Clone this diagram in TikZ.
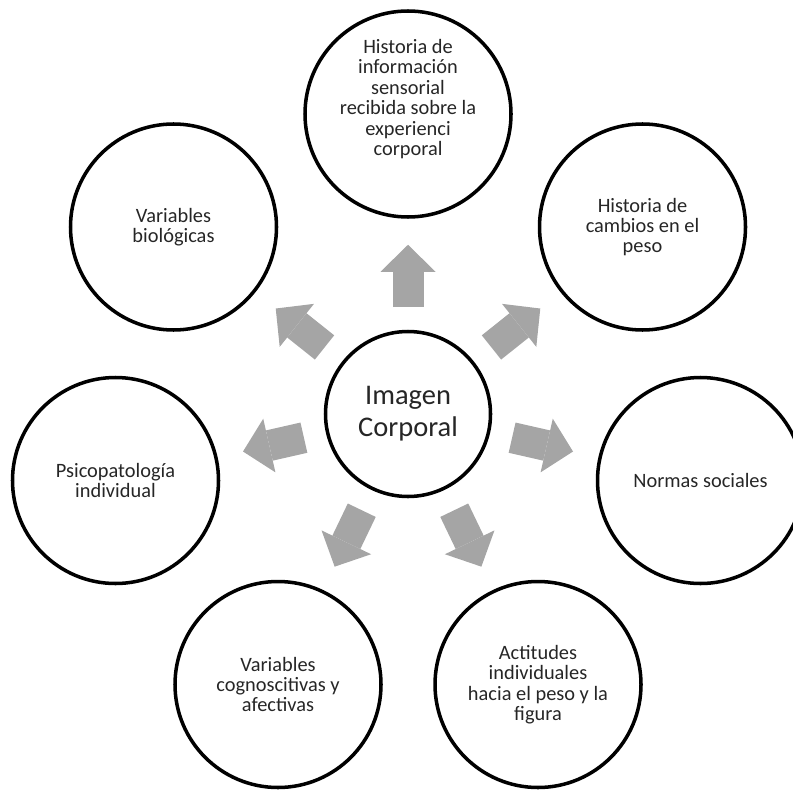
\documentclass[tikz,border=0pt]{standalone}
\usepackage{fontspec}
\setmainfont{Carlito}
\usepackage{tikz}
\usetikzlibrary{arrows.meta}
\definecolor{grisflecha}{HTML}{A5A5A5}

\begin{document}
\begin{tikzpicture}[
    circulo/.style={circle, draw, line width=2pt, minimum size=4.12cm, align=center, text=black!85, font=\fontsize{11.6}{11.6}\selectfont},
    texto/.style={align=center, text=black!85, font=\fontsize{11.6}{11.6}\selectfont},
    centro/.style={circle, draw, line width=2pt, minimum size=3.3cm, align=center, text=black!85, font=\fontsize{16.2}{18.2}\selectfont},
    flecha/.style={draw=grisflecha, line width=0.62cm, -{Triangle[width=1.1cm,length=0.54cm,line width=0pt]}, shorten <=0.45cm, shorten >=0.52cm}
]
        \useasboundingbox (0,0) rectangle (15.86,15.78);

        \node[centro] (imagen) at (8.16,7.50) {Imagen\\Corporal};

        \node[circulo] (sensorial) at (8.16,13.50) {};
        \node[texto] (sensorialtxt) at ([yshift=0.3cm]sensorial.center) {Historia de\\información\\sensorial\\recibida sobre la\\experienci\\corporal};
        \node[circulo] (peso) at (12.85,11.24) {Historia de\\cambios en el\\peso};
        \node[circulo] (normas) at (14.01,6.17) {Normas sociales};
        \node[circulo] (actitudes) at (10.76,2.09) {Actitudes\\individuales\\hacia el peso y la\\figura};
        \node[circulo] (cognitivas) at (5.56,2.09) {Variables\\cognoscitivas y\\afectivas};
        \node[circulo] (psico) at (2.31,6.17) {Psicopatología\\individual};
        \node[circulo] (biologicas) at (3.47,11.24) {Variables\\biológicas};

        \draw[flecha] (imagen) -- (sensorial);
        \draw[flecha] (imagen) -- (peso);
        \draw[flecha] (imagen) -- (normas);
        \draw[flecha] (imagen) -- (actitudes);
        \draw[flecha] (imagen) -- (cognitivas);
        \draw[flecha] (imagen) -- (psico);
        \draw[flecha] (imagen) -- (biologicas);
    \end{tikzpicture}
\end{document}
